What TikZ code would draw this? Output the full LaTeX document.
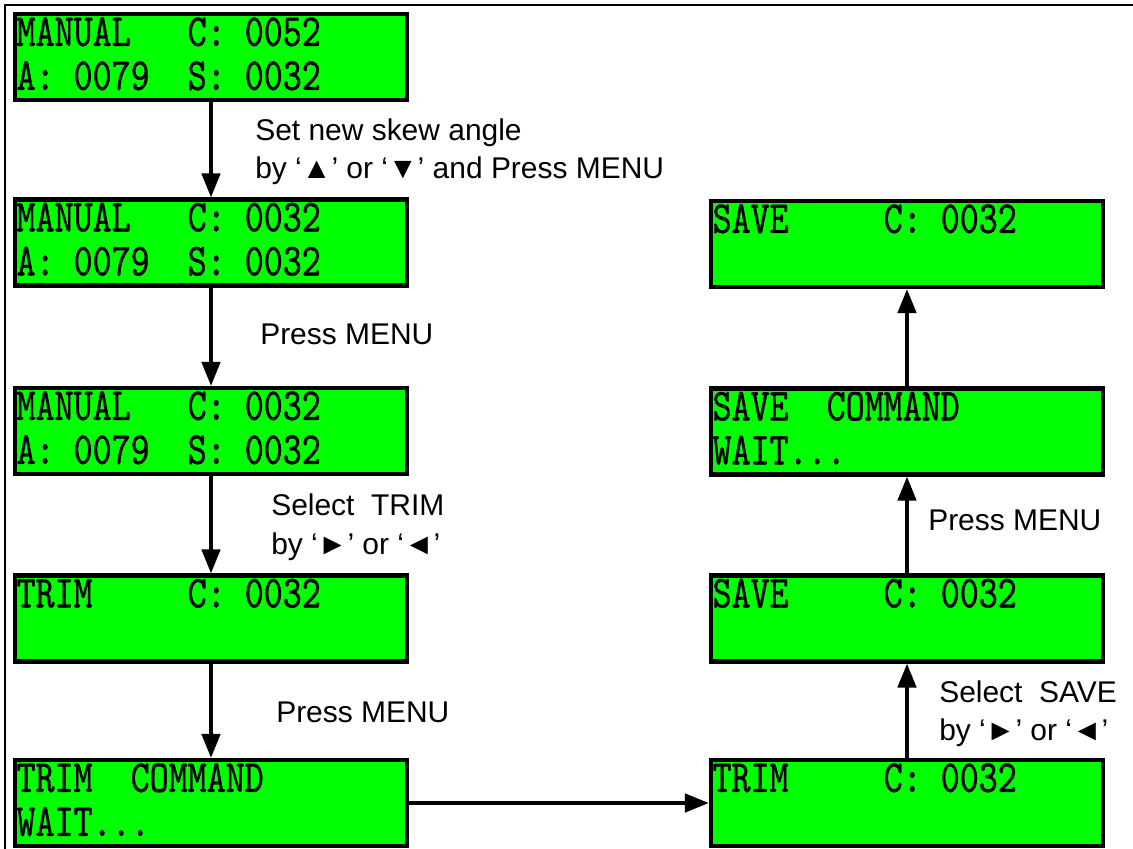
\documentclass[tikz,border=0pt]{standalone}
\usepackage{fontspec}
\setmainfont{Liberation Sans}
\newfontfamily\lcdfont{lmmono10-regular.otf}[FakeStretch=0.79, FakeBold=0.7]
\usetikzlibrary{
    calc,
    arrows.meta
}
\tikzset{
    lcd/.style={draw, line width=3pt, fill=green, minimum width=9.8cm,
        minimum height=2.15cm, inner sep=0pt},
    lcdline/.style={anchor=base west, inner sep=0pt,
        font=\fontsize{32.6}{33}\lcdfont},
    note/.style={anchor=base west, inner sep=0pt,
        font=\fontsize{21.3}{25}\selectfont},
    flow/.style={line width=2.6pt, -{Triangle[length=17pt, width=13pt]}}
}

\begin{document}
\begin{tikzpicture}[x=0.025cm, y=-0.025cm]
\useasboundingbox (0,0) rectangle (1133,849);
\draw[line width=1.4pt] (1133,5) -| (5,849);

\node[lcd] (L1) at (211,57) {};
\node[lcd] (L2) at (211,242.5) {};
\node[lcd] (L3) at (211,431) {};
\node[lcd] (L4) at (211,618.5) {};
\node[lcd] (L5) at (211,803) {};

\node[lcd] (R1) at (907,244) {};
\node[lcd] (R2) at (907,431.5) {};
\node[lcd] (R3) at (907,618.5) {};
\node[lcd] (R4) at (907,803) {};
%%
\node[lcdline] (L1a) at ($(L1.north west)+(3.5,34)$) {MANUAL~~~C:~0052};
\node[lcdline] (L1b) at ($(L1.north west)+(3.5,78)$) {A:~0079~~S:~0032};
\node[lcdline] (L2a) at ($(L2.north west)+(3.5,34)$) {MANUAL~~~C:~0032};
\node[lcdline] (L2b) at ($(L2.north west)+(3.5,78)$) {A:~0079~~S:~0032};
\node[lcdline] (L3a) at ($(L3.north west)+(3.5,34)$) {MANUAL~~~C:~0032};
\node[lcdline] (L3b) at ($(L3.north west)+(3.5,78)$) {A:~0079~~S:~0032};
\node[lcdline] (L4a) at ($(L4.north west)+(3.5,34)$) {TRIM~~~~~C:~0032};
\node[lcdline] (L5a) at ($(L5.north west)+(3.5,34)$) {TRIM~~COMMAND};
\node[lcdline] (L5b) at ($(L5.north west)+(3.5,78)$) {WAIT...};

\node[lcdline] (R1a) at ($(R1.north west)+(3.5,34)$) {SAVE~~~~~C:~0032};
\node[lcdline] (R2a) at ($(R2.north west)+(3.5,34)$) {SAVE~~COMMAND};
\node[lcdline] (R2b) at ($(R2.north west)+(3.5,78)$) {WAIT...};
\node[lcdline] (R3a) at ($(R3.north west)+(3.5,34)$) {SAVE~~~~~C:~0032};
\node[lcdline] (R4a) at ($(R4.north west)+(3.5,34)$) {TRIM~~~~~C:~0032};
%%
\draw[flow] (L1) -- (L2);
\draw[flow] (L2) -- (L3);
\draw[flow] (L3) -- (L4);
\draw[flow] (L4) -- (L5);
\draw[flow] (L5) -- (R4);
\draw[flow] (R4) -- (R3);
\draw[flow] (R3) -- (R2);
\draw[flow] (R2) -- (R1);
%
\node[note] (N1a) at (255,140) {Set new skew angle};
\node[note] (N1b) at (255,178) {by ‘▲’ or ‘▼’ and Press MENU};
\node[note] (N2) at (260,344) {Press MENU};
\node[note] (N3a) at (271,515) {Select~~TRIM};
\node[note] (N3b) at (271,554) {by ‘►’ or ‘◄’};
\node[note] (N4) at (276,722) {Press MENU};
\node[note] (N5) at (928,530) {Press MENU};
\node[note] (N6a) at (939,702) {Select~~SAVE};
\node[note] (N6b) at (939,740) {by ‘►’ or ‘◄’};
\end{tikzpicture}
\end{document}
